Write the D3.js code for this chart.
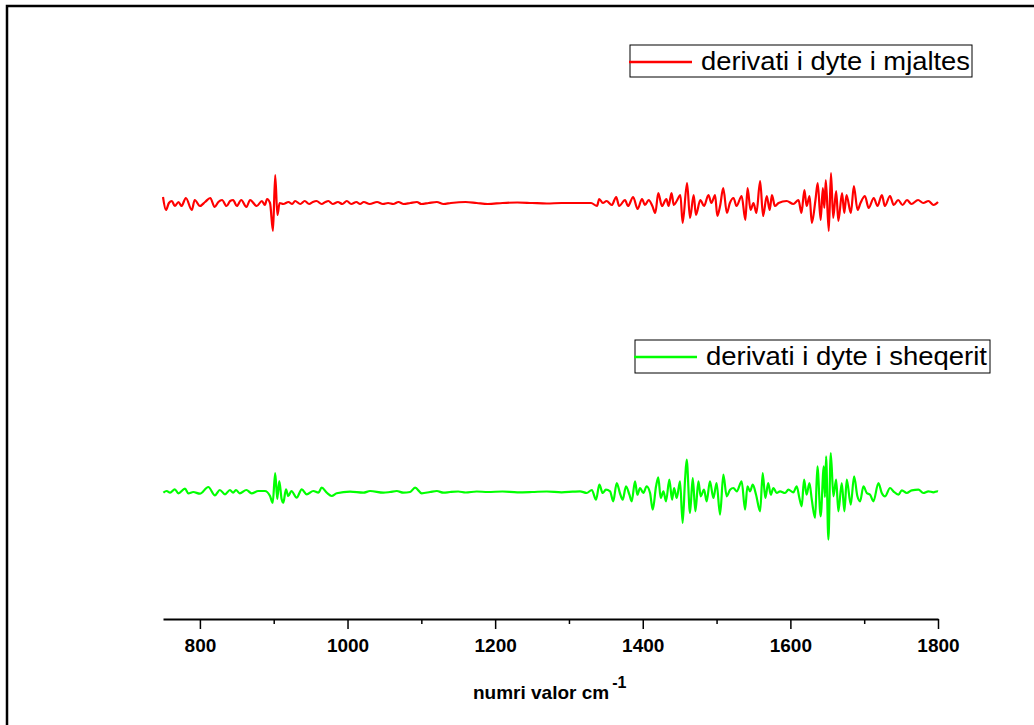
<!DOCTYPE html>
<html>
<head>
<meta charset="utf-8">
<script src="https://cdn.jsdelivr.net/npm/d3@7"></script>
<style>
  body { margin: 0; background: #fff; }
  svg { display: block; font-family: "Liberation Sans", Arial, sans-serif; }
</style>
</head>
<body>
<svg id="chart" width="1034" height="725"></svg>
<script>
// second derivative spectra, [wavenumber, value]
var honeyPoints = [
  [750, 6], [754, -7], [758, 0], [762, 2], [766, -3], [771, 1], [775, -3], [781, 5], [789, -7],
  [793, 3], [800, -3], [807, 1], [814, 5], [820, -4], [825, 1], [830, 3], [836, -3], [841, 2],
  [845, 3], [850, -3], [856, 3], [863, -4], [868, 3], [877, -3], [884, 2], [888, -2], [891, 4],
  [895, 0], [899, -28], [902, 28], [905, -12], [908, 0],
  [913, -1], [920, 1], [925, -1], [929, 2], [936, -1], [942, 2], [948, -1], [953, 1], [958, 2],
  [965, -1], [970, 1], [974, 2], [980, -1], [987, 1], [993, -1], [999, 2], [1005, -1], [1012, 1],
  [1017, -1], [1022, 1], [1030, -1], [1040, 1], [1048, -1], [1055, 0], [1062, -1], [1069, 1],
  [1076, -1], [1085, 0], [1094, 1], [1100, -1], [1110, 0], [1121, 1], [1130, -1], [1140, 0],
  [1160, 1], [1175, 0], [1190, -1], [1210, 0], [1230, 0.5], [1250, 0], [1270, -0.5], [1290, 0],
  [1315, 0], [1330, 0],
  [1338, -3], [1341, 4], [1346, 0], [1351, 2], [1358, -2], [1364, 6], [1368, -3], [1376, 3],
  [1380, -3], [1387, 6], [1393, -6], [1399, 4], [1403, -2], [1408, 3], [1413, -3], [1417, -10],
  [1421, 10], [1426, -3], [1432, 4], [1435, -3], [1439, 10], [1442, -2], [1446, 2], [1451, 8],
  [1454, -20], [1460, 20], [1464, -15], [1469, 8], [1472, -12], [1478, 3], [1483, -3], [1489, 8],
  [1493, 0], [1498, 8], [1501, -13], [1505, -2], [1509, 15], [1514, -10], [1518, 0], [1523, 5],
  [1527, -3], [1534, 7], [1539, -17], [1542, 15], [1546, -7], [1550, 0], [1554, -10], [1559, 22],
  [1563, -13], [1568, 7], [1572, -7], [1575, 8], [1579, -3], [1584, 0], [1595, 2], [1604, -1],
  [1611, 3], [1615, -10], [1619, 13], [1622, -3], [1626, 7], [1629, -20], [1634, 3], [1637, 20],
  [1641, -17], [1644, 15], [1646, -5], [1648, 23], [1652, -28], [1655, 30], [1658, -15],
  [1662, 12], [1665, -18], [1670, 10], [1673, -10], [1676, 8], [1682, -10], [1686, 17],
  [1691, -7], [1695, 0], [1701, 7], [1706, -5], [1713, 5], [1718, -3], [1724, 8], [1728, -3],
  [1735, 7], [1740, -2], [1746, 3], [1752, -2], [1758, 3], [1764, -1], [1773, 3], [1780, 0],
  [1787, 2], [1794, -2], [1800, 1]
];

var sugarPoints = [
  [750.5, -0.7], [755, 1], [759.6, -0.7], [766, 2.7], [770.8, -1.3], [779.8, 3.3], [784.3, -1.3],
  [791, 0], [800, -1.7], [811.4, 5], [820.4, -3.3], [827, 2], [834, -2.3], [840.7, 2], [845, -0.7],
  [848.8, 2], [854, -1.3], [863, 2], [870, -1.3], [879, 1], [888, 1], [895, -4], [898.6, -10.7],
  [902, 19], [904.8, -7], [907.5, 11], [910.7, -7], [913, -10.7], [916.6, 2.7], [919.7, -4],
  [924, 1], [931, -5.7], [938, 2.7], [944.7, -2.3], [953.7, 1], [960.5, -0.7], [965, 4.3],
  [971.8, -0.7], [978.6, -4], [985.4, -1.3], [1003.4, 0.3], [1021.5, -0.7], [1030.5, 1],
  [1048.6, -0.7], [1057.6, 0], [1066.7, 1], [1075.7, -0.7], [1084.8, 0], [1091.5, 4.3],
  [1100.6, -1.3], [1111.9, 0], [1121, 1], [1130, -0.7], [1139, 0], [1150, 0.5], [1160, -0.5],
  [1175, 0.5], [1190, 0], [1210, 0.5], [1230, -0.3], [1250, 0], [1270, 0.5], [1290, -0.3],
  [1305, 0.3], [1315, 0.7], [1324, -1], [1331, 2],
  [1336.7, -7.7], [1341.2, 7.3], [1345.7, -1], [1350, 2.3], [1355.7, 0.7], [1360, -9.3],
  [1364.7, 9], [1369, -1], [1372.8, -7.7], [1377.3, 5.7], [1381.9, -2.7], [1385, -9.3],
  [1389.5, 10.7], [1392.7, -2.7], [1396.3, 4], [1400.8, -1], [1405.3, 5.7], [1409.9, -1],
  [1413.5, -17.7], [1418, 5.7], [1421, 14.7], [1424.3, -6], [1428, 0.7], [1431.5, -9.3],
  [1436, 12.3], [1439.7, -7.7], [1442.4, 4], [1446, -6], [1450.5, 10.7], [1454, -31],
  [1457.3, 12.3], [1459.5, 32.3], [1464, -21], [1467.7, 14], [1471.3, -19.3], [1475.4, 10.7],
  [1478.5, -4.3], [1483, 2.3], [1486.6, -9.3], [1491, 10.7], [1495.7, -6], [1500, 9],
  [1504.7, -22.7], [1509.2, 17.3], [1513.7, -4.3], [1518.3, 2.3], [1522.8, 4], [1527.3, 0.7],
  [1534, 10.7], [1538.6, -17.7], [1541.8, 5.7], [1545.4, 0.7], [1549, 7.3], [1553.5, -2.7],
  [1559, -19.3], [1562.5, 19], [1566, -6], [1570, 9], [1573.4, -2.7], [1577, 4], [1581.5, -1],
  [1586, 0.7], [1592.8, -1], [1597.3, 2.3], [1604, -0.3], [1608.6, 5.7], [1612.2, -6],
  [1615.4, -14.3], [1618.5, 12.3], [1622, -2.7], [1625.8, 9], [1629, -7.7], [1633.5, -26],
  [1636.6, 25.7], [1641, -24.3], [1645.3, 25.7], [1646.8, -5], [1648.4, 35.7], [1651.5, -47.7],
  [1654.7, 39], [1658.3, -4.3], [1662, 12.3], [1665, -19.3], [1669.6, 9], [1673.2, -19.3],
  [1676.4, 12.3], [1681.8, -12.7], [1686.3, 15.7], [1690.8, -4.3], [1694.4, -9.3], [1699, 5.7],
  [1703.5, -1], [1708, -2.7], [1712.5, -9.3], [1719.3, 9], [1723.8, -1], [1728.3, -4.3],
  [1735, 4], [1739.6, 0.7], [1746.4, -2.7], [1751, 1.7], [1757.7, -1], [1764.4, 1.7],
  [1773.5, 2.3], [1780, -1], [1787, 0.7], [1793.8, -0.3], [1799, 0.7], [1800, 0.5]
];

var seriesNames = ['derivati i dyte i mjaltes', 'derivati i dyte i sheqerit'];
var seriesColors = ['#ff0000', '#00ff00'];
var seriesOffsets = [0, -289];
var majorTicks = [800, 1000, 1200, 1400, 1600, 1800];
var minorTicks = [900, 1100, 1300, 1500, 1700];

var svg = d3.select('#chart');

var x = d3.scaleLinear().domain([750, 1800]).range([163, 938]);
var y = d3.scaleLinear().domain([-416, 198]).range([619, 5]);

// frame (left and top only)
svg.append('path')
  .attr('d', 'M7,725V6H1034')
  .attr('fill', 'none')
  .attr('stroke', '#000')
  .attr('stroke-width', 2.5);

var series = [honeyPoints, sugarPoints];

var line = d3.line()
  .curve(d3.curveMonotoneX)
  .x(function(d) { return x(d[0]); })
  .y(function(d) { return y(d[1]); });

svg.selectAll('.trace')
  .data(series)
  .enter()
  .append('path')
  .classed('trace', true)
  .attr('fill', 'none')
  .attr('stroke', function(d, i) { return seriesColors[i]; })
  .attr('stroke-width', 2.2)
  .attr('stroke-linejoin', 'round')
  .attr('d', function(d, i) {
    return line(d.map(function(p) { return [p[0], p[1] + seriesOffsets[i]]; }));
  });

// x axis
var axisY = 619;
var xAxis = svg.append('g')
  .attr('transform', 'translate(0,' + axisY + ')')
  .call(d3.axisBottom(x).tickValues(majorTicks).tickSize(10).tickSizeOuter(0).tickFormat(d3.format('d')));
xAxis.select('.domain').attr('stroke-width', 2);
xAxis.selectAll('.tick line').attr('stroke-width', 1.5);
xAxis.selectAll('.tick text')
  .attr('y', 33)
  .attr('dy', 0)
  .attr('font-size', 19)
  .attr('font-weight', 'bold')
  .attr('font-family', '"Liberation Sans", Arial, sans-serif')
  .attr('fill', '#000');

svg.append('g')
  .attr('transform', 'translate(0,' + axisY + ')')
  .call(d3.axisBottom(x).tickValues(minorTicks).tickSize(5).tickSizeOuter(0).tickFormat(''))
  .call(function(g) { g.select('.domain').remove(); })
  .selectAll('.tick line').attr('stroke-width', 1.5);

var title = svg.append('text')
  .attr('x', 473)
  .attr('y', 699)
  .attr('font-size', 19)
  .attr('font-weight', 'bold')
  .attr('fill', '#000');
title.append('tspan').text('numri valor cm');
title.append('tspan')
  .attr('font-size', 16)
  .attr('dx', 3)
  .attr('dy', -11)
  .text('-1');

// legends
var legendBoxes = [
  { x: 630, y: 45, w: 342, h: 32 },
  { x: 635, y: 340, w: 355, h: 33 }
];

var legends = svg.selectAll('.legend')
  .data(seriesNames)
  .enter()
  .append('g')
  .classed('legend', true)
  .attr('transform', function(d, i) {
    return 'translate(' + legendBoxes[i].x + ',' + legendBoxes[i].y + ')';
  });

legends.append('rect')
  .attr('width', function(d, i) { return legendBoxes[i].w; })
  .attr('height', function(d, i) { return legendBoxes[i].h; })
  .attr('fill', '#fff')
  .attr('stroke', '#000')
  .attr('stroke-width', 1);

legends.append('line')
  .attr('x1', -1)
  .attr('x2', 62)
  .attr('y1', 17)
  .attr('y2', 17)
  .attr('stroke', function(d, i) { return seriesColors[i]; })
  .attr('stroke-width', 2.5);

legends.append('text')
  .attr('x', 71)
  .attr('y', 25)
  .attr('font-size', 25)
  .attr('fill', '#000')
  .attr('textLength', function(d, i) { return i === 0 ? 269 : 281; })
  .attr('lengthAdjust', 'spacingAndGlyphs')
  .text(function(d) { return d; });
</script>
</body>
</html>
